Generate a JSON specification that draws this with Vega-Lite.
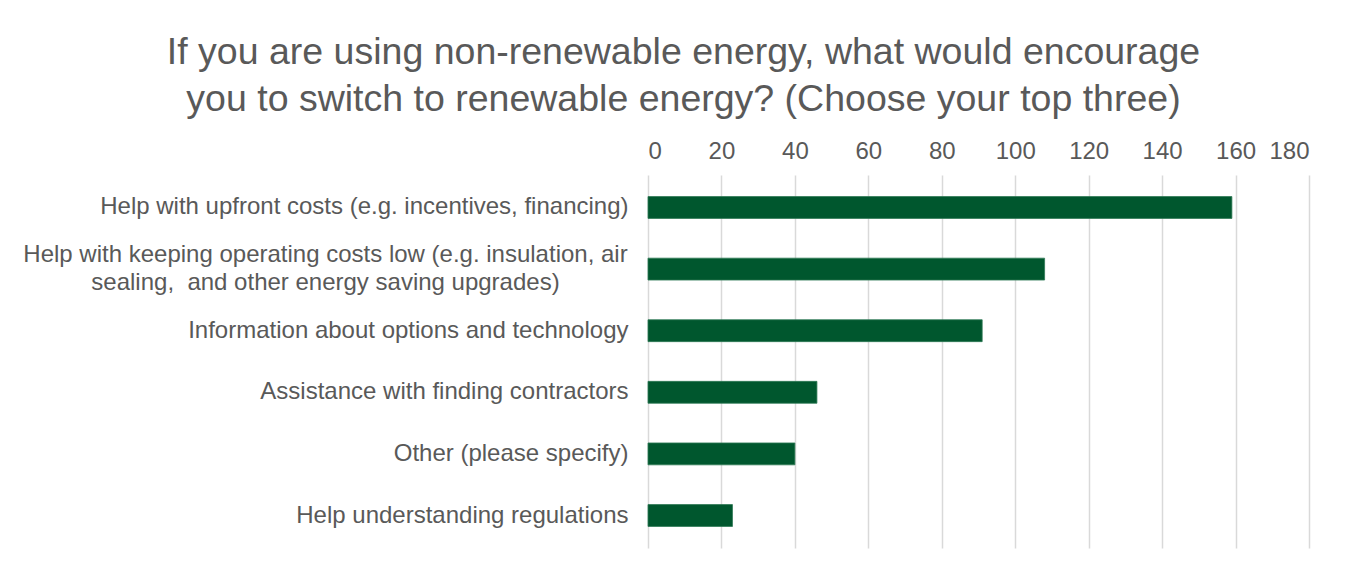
{
  "$schema": "https://vega.github.io/schema/vega-lite/v6.json",
  "autosize": {"type": "none"},
  "padding": {"left": 648, "top": 175, "right": 50, "bottom": 25},
  "width": 661,
  "height": 373,
  "background": "white",
  "title": {
    "text": ["If you are using non-renewable energy, what would encourage", "you to switch to renewable energy? (Choose your top three)"],
    "font": "Liberation Sans",
    "fontSize": 37.5,
    "fontWeight": "normal",
    "color": "#595959",
    "lineHeight": 47,
    "anchor": "middle",
    "frame": "group",
    "dx": -295,
    "offset": 21
  },
  "data": {
    "values": [
      {"option": "Help with upfront costs (e.g. incentives, financing)", "count": 159},
      {"option": "Help with keeping operating costs low (e.g. insulation, air sealing,\u00a0 and other energy saving upgrades)", "count": 108},
      {"option": "Information about options and technology", "count": 91},
      {"option": "Assistance with finding contractors", "count": 46},
      {"option": "Other (please specify)", "count": 40},
      {"option": "Help understanding regulations", "count": 23}
    ]
  },
  "mark": {"type": "bar", "color": "#00572E", "stroke": "#2E7A55", "strokeWidth": 0.8},
  "encoding": {
    "y": {
      "field": "option",
      "type": "nominal",
      "sort": null,
      "scale": {"paddingInner": 0.645, "paddingOuter": 0.35},
      "axis": {
        "title": null,
        "domain": false,
        "ticks": false,
        "labelFont": "Liberation Sans",
        "labelFontSize": 24,
        "labelColor": "#595959",
        "labelAlign": {"condition": {"test": "indexof(datum.value, 'air sealing') > 0", "value": "center"}, "value": "right"},
        "labelPadding": {"condition": {"test": "indexof(datum.value, 'air sealing') > 0", "value": 323}, "value": 20},
        "labelOffset": {"condition": {"test": "indexof(datum.value, 'air sealing') > 0", "value": -14}, "value": 0},
        "labelLimit": 700,
        "labelExpr": "indexof(datum.label, 'air sealing') > 0 ? ['Help with keeping operating costs low (e.g. insulation, air', 'sealing,\u00a0 and other energy saving upgrades)'] : datum.label",
        "labelLineHeight": 28
      }
    },
    "x": {
      "field": "count",
      "type": "quantitative",
      "scale": {"domain": [0, 180], "nice": false},
      "axis": {
        "orient": "top",
        "title": null,
        "domain": false,
        "ticks": false,
        "values": [0, 20, 40, 60, 80, 100, 120, 140, 160, 180],
        "labelFont": "Liberation Sans",
        "labelFontSize": 24,
        "labelColor": "#595959",
        "labelPadding": 12,
        "grid": true,
        "gridColor": "#D9D9D9",
        "gridWidth": 1.5
      }
    }
  },
  "config": {
    "view": {"stroke": null}
  }
}
